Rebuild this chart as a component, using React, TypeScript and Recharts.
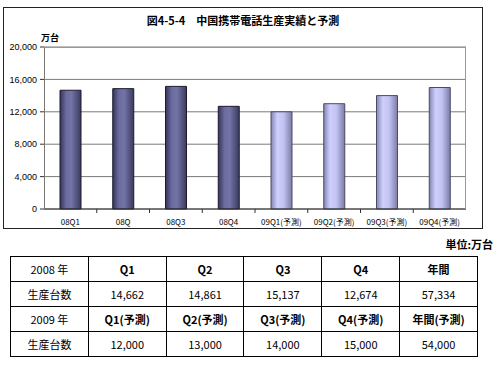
import { BarChart, Bar, Cell, XAxis, YAxis, CartesianGrid } from "recharts";

const quarters = ["08Q1", "08Q", "08Q3", "08Q4", "09Q1(予測)", "09Q2(予測)", "09Q3(予測)", "09Q4(予測)"];
const production = [14662, 14861, 15137, 12674, 12000, 13000, 14000, 15000];
const forecast = [false, false, false, false, true, true, true, true];
const yTicks = [0, 4000, 8000, 12000, 16000, 20000];

const headers2008 = ["2008 年", "Q1", "Q2", "Q3", "Q4", "年間"];
const values2008 = ["生産台数", "14,662", "14,861", "15,137", "12,674", "57,334"];
const headers2009 = ["2009 年", "Q1(予測)", "Q2(予測)", "Q3(予測)", "Q4(予測)", "年間(予測)"];
const values2009 = ["生産台数", "12,000", "13,000", "14,000", "15,000", "54,000"];

const data = quarters.map((q, i) => ({ name: q, value: production[i], forecast: forecast[i] }));

// plot area in page pixels
const PLOT = { left: 44, top: 47, right: 466, bottom: 209 };
const CHART_W = 500;
const CHART_H = 232;
const band = (PLOT.right - PLOT.left) / quarters.length;

const jp = '"Noto Sans CJK JP", "Liberation Sans", sans-serif';

function CatTick(props: any) {
  const { x, payload, index } = props;
  return (
    <g>
      <text x={x} y={PLOT.bottom + 16} textAnchor="middle" fontSize={8} fontFamily={jp} fill="#000">
        {payload.value}
      </text>
      {index < quarters.length - 1 && (
        <line x1={x + band / 2} x2={x + band / 2} y1={PLOT.bottom} y2={PLOT.bottom + 4} stroke="#333" />
      )}
    </g>
  );
}

const cellStyle: React.CSSProperties = {
  border: "1px solid #000",
  textAlign: "center",
  padding: 0,
  fontSize: 11,
  height: 24,
};

function Row({ cells, bold }: { cells: string[]; bold: boolean }) {
  return (
    <tr>
      {cells.map((c, i) => (
        <td key={i} style={{ ...cellStyle, fontWeight: bold && i > 0 ? 700 : 400 }}>
          {c}
        </td>
      ))}
    </tr>
  );
}

export default function App() {
  return (
    <div style={{ position: "absolute", left: 0, top: 0, width: 500, height: 365, background: "#fff", fontFamily: jp }}>
      <div style={{ position: "absolute", left: 3, top: 7, width: 478, height: 220, border: "1px solid #222" }} />
      <div style={{ position: "absolute", left: 0, top: 12, width: 486, textAlign: "center", fontSize: 11, fontWeight: 700 }}>
        図4-5-4　中国携帯電話生産実績と予測
      </div>
      <div style={{ position: "absolute", left: 41, top: 31, fontSize: 9, fontWeight: 700 }}>万台</div>
      <div style={{ position: "absolute", left: 0, top: 0 }}>
        <BarChart
          width={CHART_W}
          height={CHART_H}
          data={data}
          margin={{ top: PLOT.top, right: CHART_W - PLOT.right, bottom: 0, left: 0 }}
          barSize={21}
        >
          <defs>
            <linearGradient id="dark" x1="0" y1="0" x2="1" y2="0">
              <stop offset="0%" stopColor="#35355a" />
              <stop offset="30%" stopColor="#6c6ca0" />
              <stop offset="55%" stopColor="#7373a6" />
              <stop offset="100%" stopColor="#3a3a5e" />
            </linearGradient>
            <linearGradient id="light" x1="0" y1="0" x2="1" y2="0">
              <stop offset="0%" stopColor="#8585b4" />
              <stop offset="30%" stopColor="#cfcffd" />
              <stop offset="60%" stopColor="#c3c3f3" />
              <stop offset="100%" stopColor="#7c7ca6" />
            </linearGradient>
          </defs>
          <CartesianGrid vertical={false} stroke="#7a7a7a" />
          <XAxis dataKey="name" interval={0} tickLine={false} stroke="#333" tick={<CatTick />} height={CHART_H - PLOT.bottom} />
          <YAxis
            domain={[0, 20000]}
            ticks={yTicks}
            width={PLOT.left}
            tickSize={4}
            tickMargin={3}
            axisLine={false}
            stroke="#333"
            tick={{ fontSize: 9, fill: "#000", fontFamily: "Liberation Sans, Arial, sans-serif" }}
            tickFormatter={(v: number) => v.toLocaleString("en-US")}
          />
          <Bar dataKey="value" isAnimationActive={false}>
            {data.map((d, i) => (
              <Cell key={i} fill={d.forecast ? "url(#light)" : "url(#dark)"} stroke={d.forecast ? "#4a4a66" : "#1c1c2e"} strokeWidth={1} />
            ))}
          </Bar>
        </BarChart>
      </div>
      <div
        style={{
          position: "absolute",
          left: PLOT.left,
          top: PLOT.top,
          width: PLOT.right - PLOT.left,
          height: PLOT.bottom - PLOT.top,
          borderTop: "1px solid #999",
          borderRight: "1px solid #999",
          borderLeft: "1px solid #777",
          boxSizing: "border-box",
          pointerEvents: "none",
        }}
      />
      <div style={{ position: "absolute", right: 7, top: 236, fontSize: 11, fontWeight: 700 }}>単位:万台</div>
      <table
        style={{
          position: "absolute",
          left: 10,
          top: 256,
          width: 468,
          borderCollapse: "collapse",
          tableLayout: "fixed",
          border: "1.5px solid #000",
        }}
      >
        <tbody>
          <Row cells={headers2008} bold />
          <Row cells={values2008} bold={false} />
          <Row cells={headers2009} bold />
          <Row cells={values2009} bold={false} />
        </tbody>
      </table>
    </div>
  );
}
